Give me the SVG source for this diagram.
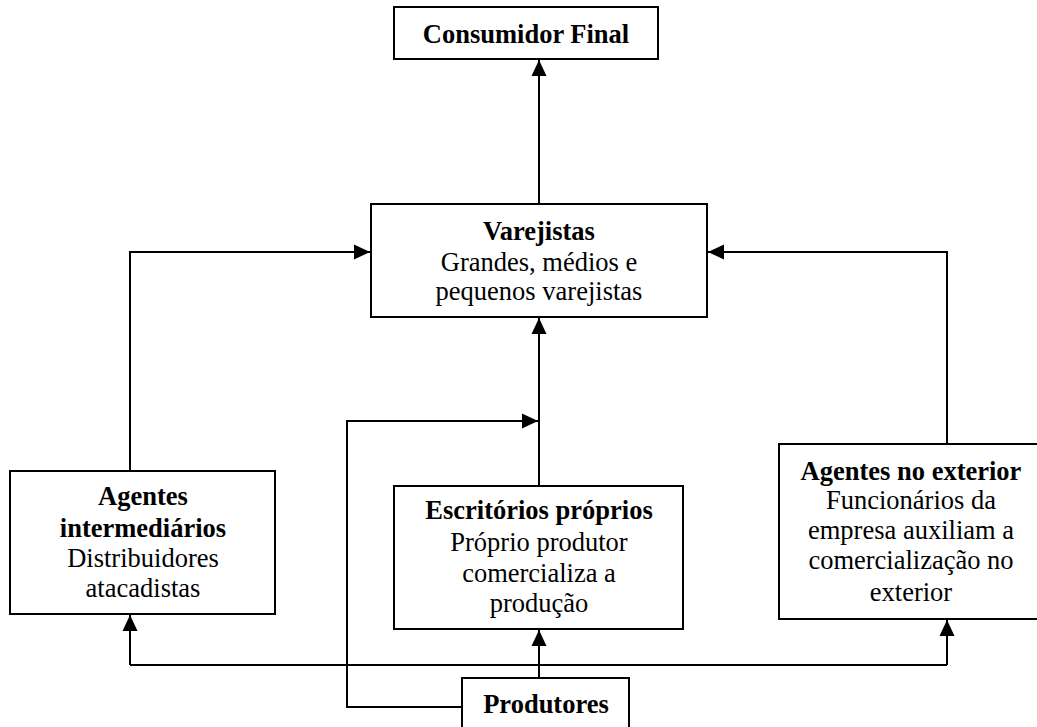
<svg xmlns="http://www.w3.org/2000/svg" width="1037" height="727" viewBox="0 0 1037 727">
<style>
.box{fill:#fff;stroke:#000;stroke-width:2}
.ln{fill:none;stroke:#000;stroke-width:2}
text{font-family:"Liberation Serif","Times New Roman",serif;font-size:26.5px;fill:#000;text-anchor:middle}
.b{font-weight:bold}
</style>
<defs>
<marker id="ah" markerUnits="userSpaceOnUse" markerWidth="18" markerHeight="16" viewBox="0 0 18 16" refX="17" refY="8" orient="auto">
<path d="M1,0.5 L17,8 L1,15.5 Z" fill="#000"/>
</marker>
</defs>
<rect width="1037" height="727" fill="#fff"/>
<g id="connectors">
<path class="ln" d="M539,204 L539,60" marker-end="url(#ah)"/>
<path class="ln" d="M539,486 L539,318" marker-end="url(#ah)"/>
<path class="ln" d="M130,471 L130,252 L370,252" marker-end="url(#ah)"/>
<path class="ln" d="M947,444 L947,252 L708,252" marker-end="url(#ah)"/>
<path class="ln" d="M462,707 L347,707 L347,421 L538,421" marker-end="url(#ah)"/>
<path class="ln" d="M539,678 L539,630" marker-end="url(#ah)"/>
<path class="ln" d="M130,665 L947,665"/>
<path class="ln" d="M130,665 L130,615" marker-end="url(#ah)"/>
<path class="ln" d="M947,665 L947,620" marker-end="url(#ah)"/>
</g>
<g id="consumidor">
<rect class="box" x="394" y="7" width="264" height="52"/>
<text class="b" x="526" y="43">Consumidor Final</text>
</g>
<g id="varejistas">
<rect class="box" x="371" y="204" width="336" height="113"/>
<text class="b" x="539" y="240">Varejistas</text>
<text x="539" y="271">Grandes, médios e</text>
<text x="539" y="300">pequenos varejistas</text>
</g>
<g id="agentes-intermediarios">
<rect class="box" x="10" y="471" width="265" height="143"/>
<text class="b" x="143" y="505">Agentes</text>
<text class="b" x="143" y="537">intermediários</text>
<text x="143" y="567">Distribuidores</text>
<text x="143" y="597">atacadistas</text>
</g>
<g id="escritorios">
<rect class="box" x="394" y="486" width="289" height="143"/>
<text class="b" x="539" y="519">Escritórios próprios</text>
<text x="539" y="551">Próprio produtor</text>
<text x="539" y="582">comercializa a</text>
<text x="539" y="612">produção</text>
</g>
<g id="agentes-exterior">
<rect class="box" x="779" y="444" width="264" height="175"/>
<text class="b" x="911" y="480">Agentes no exterior</text>
<text x="911" y="509">Funcionários da</text>
<text x="911" y="539">empresa auxiliam a</text>
<text x="911" y="569">comercialização no</text>
<text x="911" y="601">exterior</text>
</g>
<g id="produtores">
<rect class="box" x="462" y="678" width="167" height="60"/>
<text class="b" x="546" y="713">Produtores</text>
</g>
</svg>
